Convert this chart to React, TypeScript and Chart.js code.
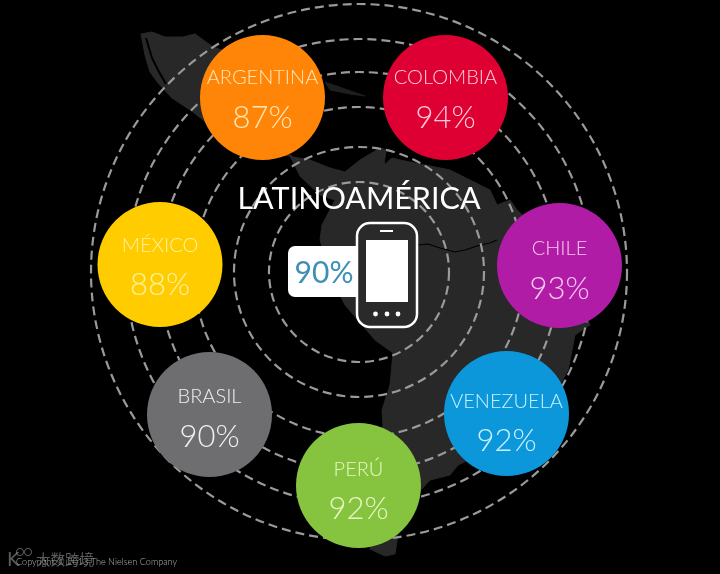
import React, { useEffect, useRef } from "react";
import { Chart, registerables } from "chart.js";

Chart.register(...registerables);

const countries = ["ARGENTINA", "COLOMBIA", "CHILE", "VENEZUELA", "PERÚ", "BRASIL", "MÉXICO"];
const percents = [87, 94, 93, 92, 92, 90, 88];
const bubbleX = [262.5, 445.5, 559.5, 506.5, 358.5, 209.5, 160];
const bubbleY = [97.5, 97.5, 265.5, 413.5, 485.5, 414.5, 264.5];
const nameLineY = [78, 78, 249, 402, 470, 397, 246];
const valueLineY = [118, 118, 289, 441, 509, 437, 285];
const bubbleColors = ["#FF8508", "#DF0033", "#B01CA6", "#0C97DB", "#86C440", "#6E6E70", "#FFCC00"];
const labelColors = ["#FFE6B4", "#FFCBD8", "#F9C9F2", "#C8F0FF", "#E6F7C4", "#F0F0F0", "#FFF0A0"];
const ringRadii = [90, 125, 165, 200, 233, 268];
const ringCenterX = 359;
const ringCenterY = 272;
const regionValue = 90;

const mapOutlineX = [141, 152, 165, 183, 195, 213, 222, 230, 260, 293, 310, 330, 345, 360, 380, 386, 384, 392, 400, 450, 490, 497, 510, 517, 560, 590, 575, 568, 560, 510, 458, 450, 430, 421, 400, 395, 385, 370, 375, 383, 382, 390, 393, 375, 345, 335, 320, 322, 335, 320, 300, 290, 250, 203, 193, 172, 158, 150, 145, 141];
const mapOutlineY = [34, 32, 37, 37, 34, 47, 50, 100, 130, 157, 160, 168, 172, 160, 148, 150, 165, 158, 160, 170, 190, 205, 200, 210, 250, 325, 335, 370, 385, 440, 465, 475, 480, 490, 520, 554, 556, 549, 500, 425, 410, 385, 353, 340, 305, 285, 240, 225, 200, 195, 176, 156, 150, 120, 112, 98, 83, 72, 55, 34];
const cubaX = [325, 345, 365, 350, 330, 325];
const cubaY = [82, 89, 96, 94, 90, 82];
const borderX = [417, 428, 440, 455, 465, 480, 490, 497];
const borderY = [245, 244, 248, 252, 250, 245, 243, 240];
const gulfX = [146, 152, 158, 166];
const gulfY = [38, 58, 70, 84];

const LIGHT = '"Lato"';

function pts(xs: number[], ys: number[]) {
  return xs.map((x, i) => ({ x, y: ys[i] }));
}

function rr(ctx: CanvasRenderingContext2D, x: number, y: number, w: number, h: number, r: number | number[]) {
  ctx.beginPath();
  ctx.roundRect(x, y, w, h, r);
}

const dashPlugin = {
  id: "ringDash",
  beforeDatasetDraw(chart: any, args: any) {
    if (chart.data.datasets[args.index].label === "rings") {
      chart.ctx.save();
      chart.ctx.setLineDash([9, 5]);
    }
  },
  afterDatasetDraw(chart: any, args: any) {
    if (chart.data.datasets[args.index].label === "rings") chart.ctx.restore();
  },
};

const overlayPlugin = {
  id: "overlay",
  afterDatasetsDraw(chart: any) {
    const { ctx, scales } = chart;
    const px = (v: number) => scales.x.getPixelForValue(v);
    const py = (v: number) => scales.y.getPixelForValue(v);
    ctx.save();
    ctx.textAlign = "center";
    ctx.textBaseline = "middle";

    countries.forEach((name, i) => {
      ctx.fillStyle = labelColors[i];
      ctx.font = `300 20px ${LIGHT}`;
      ctx.fillText(name, px(bubbleX[i]), py(nameLineY[i]));
      ctx.font = `300 31px ${LIGHT}`;
      ctx.fillText(`${percents[i]}%`, px(bubbleX[i]), py(valueLineY[i]));
    });

    ctx.fillStyle = "#FFFFFF";
    ctx.font = `400 30.5px ${LIGHT}`;
    ctx.fillText("LATINOAMÉRICA", px(359), py(199));

    ctx.fillStyle = "#FFFFFF";
    rr(ctx, px(288), py(246), 72, 51, [7, 0, 0, 7]);
    ctx.fill();
    ctx.fillStyle = "#3E8FB5";
    ctx.font = `400 30px ${LIGHT}`;
    ctx.fillText(`${regionValue}%`, px(324), py(273));

    ctx.fillStyle = "#2A2A2A";
    ctx.strokeStyle = "#FFFFFF";
    ctx.lineWidth = 2.5;
    rr(ctx, px(357), py(223), 60, 104, 13);
    ctx.fill();
    ctx.stroke();
    ctx.fillStyle = "#FFFFFF";
    ctx.fillRect(px(366), py(240), 42, 62);
    ctx.fillRect(px(380), py(230), 13, 2);
    [375.5, 387, 398].forEach((x) => {
      ctx.beginPath();
      ctx.arc(px(x), py(314), 2.4, 0, Math.PI * 2);
      ctx.fill();
    });

    ctx.textAlign = "left";
    ctx.fillStyle = "#B4B4B4";
    ctx.font = `300 9.1px ${LIGHT}`;
    ctx.fillText("Copyright © 2013 The Nielsen Company", px(16), py(562));

    ctx.fillStyle = "rgba(140,140,140,0.65)";
    ctx.font = `400 14.5px "Noto Sans CJK SC"`;
    ctx.fillText("大数跨境", px(36), py(559));
    ctx.font = `400 19px "DejaVu Sans"`;
    ctx.fillText("K", px(7), py(561));
    ctx.strokeStyle = "rgba(140,140,140,0.65)";
    ctx.lineWidth = 1;
    [20, 28].forEach((x) => {
      ctx.beginPath();
      ctx.arc(px(x), py(552), 3.6, 0, Math.PI * 2);
      ctx.stroke();
    });
    ctx.restore();
  },
};

export default function App() {
  const ref = useRef<HTMLCanvasElement>(null);
  useEffect(() => {
    document.body.style.margin = "0";
    document.body.style.background = "#000";
    const chart = new Chart(ref.current as HTMLCanvasElement, {
      type: "bubble",
      data: {
        datasets: [
          {
            label: "countries",
            order: 0,
            clip: false,
            data: bubbleX.map((x, i) => ({ x, y: bubbleY[i], r: 62.5 })),
            backgroundColor: bubbleColors,
            borderWidth: 0,
          },
          {
            label: "rings",
            order: 1,
            clip: false,
            data: ringRadii.map((r) => ({ x: ringCenterX, y: ringCenterY, r })),
            backgroundColor: "rgba(0,0,0,0)",
            borderColor: "#9A9A9A",
            borderWidth: 2.2,
          },
          {
            type: "line",
            label: "border",
            order: 2,
            data: pts(borderX, borderY),
            borderColor: "#000",
            borderWidth: 1.2,
            pointRadius: 0,
            fill: false,
          },
          {
            type: "line",
            label: "gulf",
            order: 2,
            data: pts(gulfX, gulfY),
            borderColor: "#000",
            borderWidth: 2,
            pointRadius: 0,
            fill: false,
          },
          {
            type: "line",
            label: "cuba",
            order: 3,
            data: pts(cubaX, cubaY),
            borderColor: "#1E1E1E",
            borderWidth: 1,
            backgroundColor: "#1E1E1E",
            pointRadius: 0,
            fill: "shape",
          },
          {
            type: "line",
            label: "map",
            order: 3,
            data: pts(mapOutlineX, mapOutlineY),
            borderColor: "#282828",
            borderWidth: 1,
            backgroundColor: "#282828",
            pointRadius: 0,
            fill: "shape",
          },
        ] as any,
      },
      options: {
        animation: false,
        responsive: false,
        events: [],
        layout: { padding: 0, autoPadding: false },
        plugins: { legend: { display: false }, tooltip: { enabled: false } },
        scales: {
          x: { type: "linear", display: false, min: 0, max: 720 },
          y: { type: "linear", display: false, min: 0, max: 574, reverse: true },
        },
      },
      plugins: [dashPlugin, overlayPlugin],
    } as any);
    return () => chart.destroy();
  }, []);
  return (
    <div style={{ width: 720, height: 574, background: "#000" }}>
      <canvas ref={ref} width={720} height={574} style={{ display: "block" }} />
    </div>
  );
}
